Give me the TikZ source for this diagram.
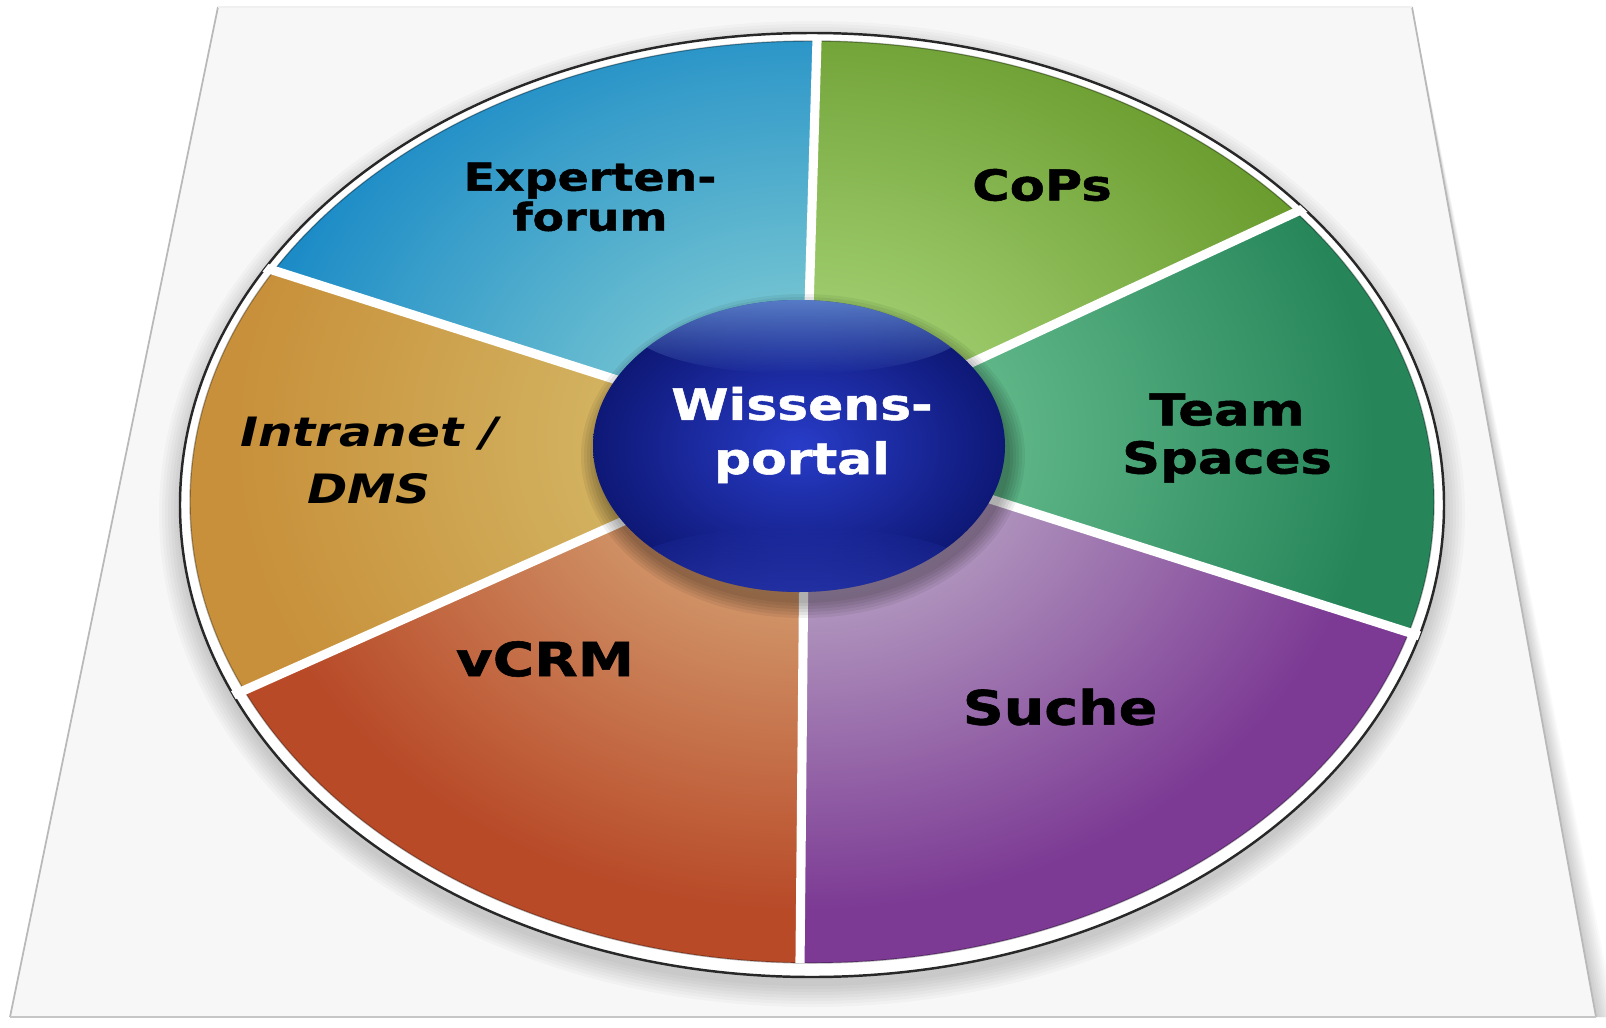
\documentclass[tikz,border=0pt]{standalone}
\usepackage{fontspec}
\newfontfamily\piefont[FakeStretch=1.2, BoldFeatures={FakeBold=1.2}]{DejaVu Sans}
\usetikzlibrary{calc,fadings}

\definecolor{planefill}{RGB}{247,247,247}
\definecolor{planeedge}{RGB}{185,185,185}
\definecolor{rimline}{RGB}{40,40,40}
\definecolor{expin}{RGB}{150,218,214}
\definecolor{expout}{RGB}{26,138,198}
\definecolor{copin}{RGB}{180,224,135}
\definecolor{copout}{RGB}{104,154,44}
\definecolor{teamin}{RGB}{125,208,160}
\definecolor{teamout}{RGB}{38,134,90}
\definecolor{suchin}{RGB}{204,198,212}
\definecolor{suchout}{RGB}{124,58,148}
\definecolor{crmin}{RGB}{222,188,138}
\definecolor{crmout}{RGB}{184,74,40}
\definecolor{dmsin}{RGB}{216,198,118}
\definecolor{dmsout}{RGB}{200,144,58}
\definecolor{ballin}{RGB}{40,60,200}
\definecolor{ballout}{RGB}{14,24,118}
\definecolor{ballshine}{RGB}{125,175,240}
\definecolor{ballglow}{RGB}{70,90,240}

\tikzfading[name=fadedown, top color=transparent!0, bottom color=transparent!100]
\tikzfading[name=fadeup, top color=transparent!100, bottom color=transparent!0]
\newcommand{\fsz}[2]{\fontsize{#1}{#2}\selectfont}

\begin{document}
\begin{tikzpicture}[
    x=0.01cm, y=-0.01cm,
    seglabel/.style={align=center, text=black, inner sep=0pt},
    hublabel/.style={align=center, text=white, inner sep=0pt},
    divider/.style={white, line width=2.6pt}
]
    \useasboundingbox (0,0) rectangle (1606,1027);
    \fill[white] (0,0) rectangle (1606,1027);

    % plane under the disc
    \coordinate (tl) at (218,7);
    \coordinate (tr) at (1412,7);
    \coordinate (br) at (1596,1017);
    \coordinate (bl) at (10,1017);
    \foreach \d in {2,4,...,20}
        \fill[black, opacity=0.02] (tr) -- ($(tr)!0.5!(br)+(0.5*\d,0)$) -- ($(br)+(\d,0)$) -- (br) -- cycle;
    \fill[planefill] (tl) -- (tr) -- (br) -- (bl) -- cycle;
    \draw[planeedge, line width=0.5pt] (tl) -- (bl) (tr) -- (br);
    \draw[gray!45, line width=0.6pt] (bl) -- (br);
    \draw[gray!12, line width=0.4pt] (tl) -- (tr);

    % soft shadow of the disc
    \foreach \k in {0,...,7}
        \fill[black, opacity=0.025] (812,514) ellipse [x radius={632+3*\k}, y radius={472+3*\k}];
    \fill[white] (812,505) ellipse [x radius=632, y radius=472];
    \draw[rimline, line width=0.7pt] (812,505) ellipse [x radius=632, y radius=472];

    % segment borders
    \coordinate (hub) at (805,440);
    \coordinate (p1) at (817,40);
    \coordinate (p2) at (1307,207);
    \coordinate (p3) at (1423,637);
    \coordinate (p4) at (800,963);
    \coordinate (p5) at (227,698);
    \coordinate (p6) at (263,267);

    \begin{scope}
        \clip (812,502) ellipse [x radius=622, y radius=461];
        \foreach \a/\b/\ci/\co in {p1/p2/copin/copout, p2/p3/teamin/teamout, p3/p4/suchin/suchout,
                                  p4/p5/crmin/crmout, p5/p6/dmsin/dmsout, p6/p1/expin/expout} {
            \begin{scope}
                \clip (hub) -- ($(hub)!3!(\a)$) -- ($(hub)!3!(\b)$) -- cycle;
                \fill[\co] (hub) -- ($(hub)!3!(\a)$) -- ($(hub)!3!(\b)$) -- cycle;
                \shade[inner color=\ci, outer color=\co] (hub) ellipse [x radius=570, y radius=470];
            \end{scope}
        }
    \end{scope}
    \draw[black, opacity=0.3, line width=0.4pt] (812,502) ellipse [x radius=622, y radius=461];

    \begin{scope}
        \clip (812,505) ellipse [x radius=632, y radius=472];
        \foreach \i in {1,...,6}
            \draw[divider] (hub) -- (p\i);
    \end{scope}

    % hub button
    \coordinate (ball) at (799,446);
    \foreach \k in {1,...,6}
        \fill[black, opacity=0.06] (803,456) ellipse [x radius={204+3*\k}, y radius={144+3*\k}];
    \shade[inner color=ballin, outer color=ballout] (ball) ellipse [x radius=206, y radius=146];
    \begin{scope}
        \clip (ball) ellipse [x radius=206, y radius=146];
        \fill[ballshine, opacity=0.85, path fading=fadedown] (799,326) ellipse [x radius=170, y radius=48];
        \fill[ballglow, opacity=0.5, path fading=fadeup] (799,572) ellipse [x radius=175, y radius=45];
    \end{scope}

    % labels
    \node[seglabel, font=\piefont\bfseries\fsz{10.9}{11.4}] (expert) at (590,197) {Experten-\\forum};
    \node[seglabel, font=\piefont\bfseries\fsz{12.1}{14}] (cops) at (1042,185) {CoPs};
    \node[seglabel, font=\piefont\bfseries\fsz{12.5}{13.7}] (team) at (1227,438) {Team\\Spaces};
    \node[seglabel, font=\piefont\bfseries\fsz{13.5}{15}] (suche) at (1060,707) {Suche};
    \node[seglabel, font=\piefont\bfseries\fsz{13.4}{15}] (vcrm) at (545,659) {vCRM};
    \node[seglabel, font=\piefont\bfseries\itshape\fsz{11.5}{16.2}] (dms) at (369,461) {Intranet /\\DMS};
    \node[hublabel, font=\piefont\bfseries\fsz{12.3}{15.4}] (portal) at (802,435) {Wissens-\\portal};
\end{tikzpicture}
\end{document}
